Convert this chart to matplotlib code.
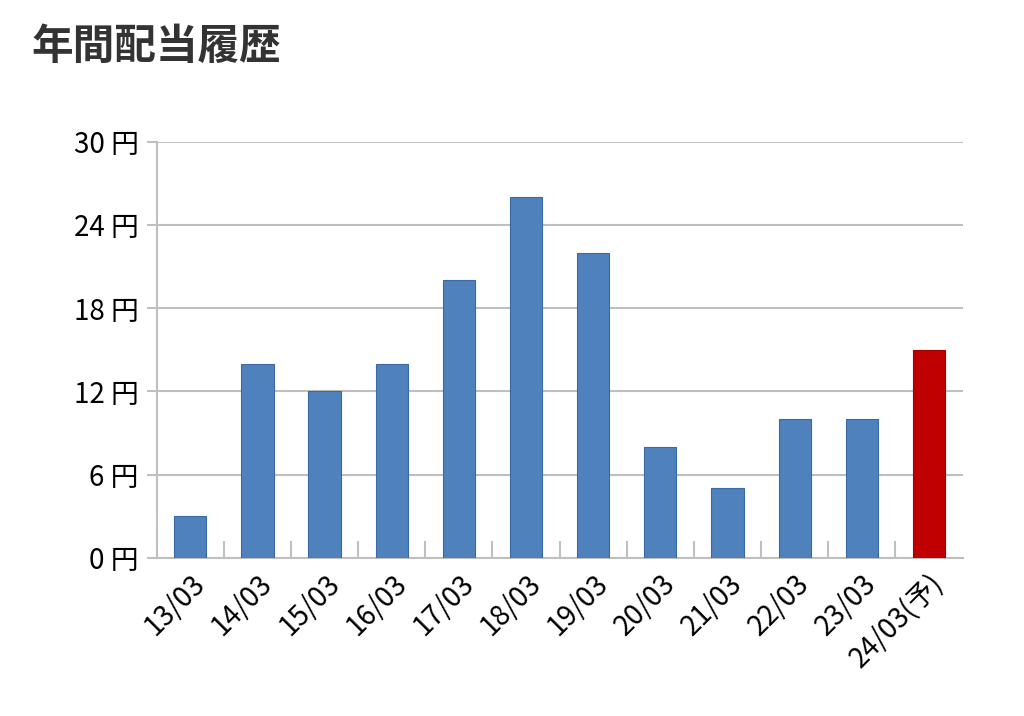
import matplotlib.pyplot as plt
import numpy as np

plt.rcParams['font.family'] = ['Noto Sans CJK JP', 'DejaVu Sans']

labels = ["13/03", "14/03", "15/03", "16/03", "17/03", "18/03", "19/03",
          "20/03", "21/03", "22/03", "23/03", "24/03(予)"]
values = [3, 14, 12, 14, 20, 26, 22, 8, 5, 10, 10, 15]
colors = ["#4f81bd"] * 11 + ["#c00000"]
edges = ["#3a6aa6"] * 11 + ["#a00000"]

fig = plt.figure(figsize=(10.24, 7.16), dpi=100)
ax = fig.add_axes([0.153, 0.221, 0.787, 0.581])
x = np.arange(len(values))
ax.bar(x, values, width=0.48, color=colors, edgecolor=edges, linewidth=0.8, zorder=3)

ax.set_xlim(-0.5, len(values) - 0.5)
ax.set_ylim(0, 30)
ax.set_yticks(range(0, 31, 6))
ax.set_yticklabels([f"{v} 円" for v in range(0, 31, 6)], fontsize=20)
ax.yaxis.grid(True, color="#bfbfbf", linewidth=1.5, zorder=0)
ax.tick_params(axis="y", length=7, width=1.5, color="#bfbfbf", pad=6)

ax.set_xticks(x)
ax.set_xticklabels(labels, rotation=45, ha="right", rotation_mode="anchor", fontsize=20)
ax.tick_params(axis="x", length=0, pad=8)
ax.set_xticks(np.arange(0.5, len(values) - 0.5, 1), minor=True)
ax.tick_params(axis="x", which="minor", direction="in", length=12, width=1.5, color="#bfbfbf")

for s in ["top", "right"]:
    ax.spines[s].set_visible(False)
for s in ["left", "bottom"]:
    ax.spines[s].set_color("#bfbfbf")
    ax.spines[s].set_linewidth(1.5)

fig.text(0.031, 0.935, "年間配当履歴", fontsize=30, fontweight="bold", color="#333333", va="center")

fig.savefig("out.png")
